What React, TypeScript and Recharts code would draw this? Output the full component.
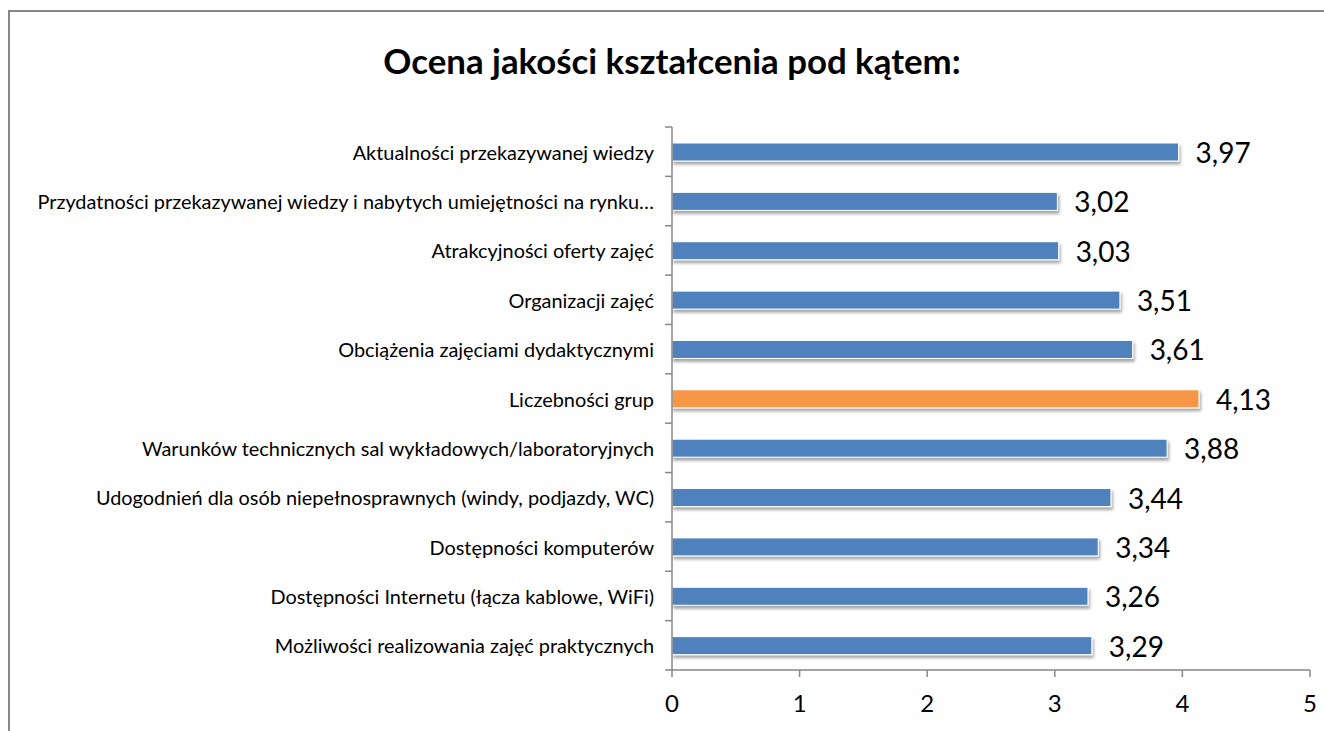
import React from "react";
import { BarChart, Bar, XAxis, YAxis, Cell, LabelList } from "recharts";

const categories = [
  "Aktualności przekazywanej wiedzy",
  "Przydatności przekazywanej wiedzy i nabytych umiejętności na rynku…",
  "Atrakcyjności oferty zajęć",
  "Organizacji zajęć",
  "Obciążenia zajęciami dydaktycznymi",
  "Liczebności grup",
  "Warunków technicznych sal wykładowych/laboratoryjnych",
  "Udogodnień dla osób niepełnosprawnych (windy, podjazdy, WC)",
  "Dostępności komputerów",
  "Dostępności Internetu (łącza kablowe, WiFi)",
  "Możliwości realizowania zajęć praktycznych",
];
const values = [3.97, 3.02, 3.03, 3.51, 3.61, 4.13, 3.88, 3.44, 3.34, 3.26, 3.29];
const xTicks = [0, 1, 2, 3, 4, 5];
const highlighted = "Liczebności grup";
const title = "Ocena jakości kształcenia pod kątem:";

const data = categories.map((name, i) => ({ name, value: values[i] }));

const W = 1324;
const H = 731;
const TOP = 127;
const XAXIS_H = 61;
const YAXIS_W = 672;
const RIGHT = 14;
const FONT = "Lato, 'Open Sans', sans-serif";
const AXIS_COLOR = "#878787";
const BLUE = "#4F81BD";
const ORANGE = "#F79646";
const halfBand = (H - TOP - XAXIS_H) / categories.length / 2;

const YTick = (props: any) => {
  const { x, y, payload, index } = props;
  const last = index === categories.length - 1;
  return (
    <g>
      <text
        x={x - 18}
        y={y}
        textAnchor="end"
        dominantBaseline="central"
        fontFamily={FONT}
        fontSize={19.9}
        fill="#000"
      >
        {payload.value}
      </text>
      <line x1={x - 7} x2={x} y1={y - halfBand} y2={y - halfBand} stroke={AXIS_COLOR} strokeWidth={1.5} />
      {last && (
        <line x1={x - 7} x2={x} y1={y + halfBand} y2={y + halfBand} stroke={AXIS_COLOR} strokeWidth={1.5} />
      )}
    </g>
  );
};

const BarShape = (props: any) => {
  const { x, y, width, height, fill } = props;
  return (
    <rect x={x} y={y} width={width} height={height} fill={fill} stroke="#fff" strokeWidth={1} filter="url(#barShadow)" />
  );
};

const ValueLabel = (props: any) => {
  const { x, y, width, height, value } = props;
  return (
    <text
      x={x + width + 17}
      y={y + height / 2}
      dominantBaseline="central"
      fontFamily={FONT}
      fontSize={28}
      fill="#000"
    >
      {String(value.toFixed(2)).replace(".", ",")}
    </text>
  );
};

export default function App() {
  return (
    <div
      style={{
        position: "absolute",
        left: 0,
        top: 0,
        width: W,
        height: H,
        overflow: "hidden",
        background: "#fff",
      }}
    >
      <svg width={0} height={0} style={{ position: "absolute" }}>
        <defs>
          <filter id="barShadow" x="-5%" y="-50%" width="110%" height="200%">
            <feDropShadow dx={1.5} dy={3} stdDeviation={1.5} floodColor="#000" floodOpacity={0.35} />
          </filter>
        </defs>
      </svg>
      <div
        style={{
          position: "absolute",
          left: 8,
          top: 10,
          width: 1400,
          height: 800,
          borderTop: `2px solid ${AXIS_COLOR}`,
          borderLeft: `2px solid ${AXIS_COLOR}`,
        }}
      />
      <div
        style={{
          position: "absolute",
          left: 672,
          top: 60,
          transform: "translate(-50%, -50%)",
          whiteSpace: "nowrap",
          fontFamily: FONT,
          fontWeight: 700,
          fontSize: 34.8,
          color: "#000",
        }}
      >
        {title}
      </div>
      <div style={{ position: "absolute", left: 0, top: 0 }}>
        <BarChart
          width={W}
          height={H}
          data={data}
          layout="vertical"
          margin={{ top: TOP, right: RIGHT, bottom: 0, left: 0 }}
          barSize={18}
        >
          <XAxis
            type="number"
            domain={[0, 5]}
            ticks={xTicks}
            height={XAXIS_H}
            stroke={AXIS_COLOR}
            axisLine={{ stroke: AXIS_COLOR, strokeWidth: 1.5 }}
            tickLine={{ stroke: AXIS_COLOR, strokeWidth: 1.5 }}
            tickSize={7}
            tickMargin={18}
            tick={{ fill: "#000", fontSize: 24, fontFamily: FONT }}
            interval={0}
          />
          <YAxis
            type="category"
            dataKey="name"
            width={YAXIS_W}
            axisLine={{ stroke: AXIS_COLOR, strokeWidth: 1.5 }}
            tickLine={false}
            tickSize={0}
            tickMargin={0}
            tick={<YTick />}
            interval={0}
          />
          <Bar dataKey="value" isAnimationActive={false} shape={<BarShape />}>
            {data.map((d) => (
              <Cell key={d.name} fill={d.name === highlighted ? ORANGE : BLUE} />
            ))}
            <LabelList dataKey="value" content={<ValueLabel />} />
          </Bar>
        </BarChart>
      </div>
    </div>
  );
}
